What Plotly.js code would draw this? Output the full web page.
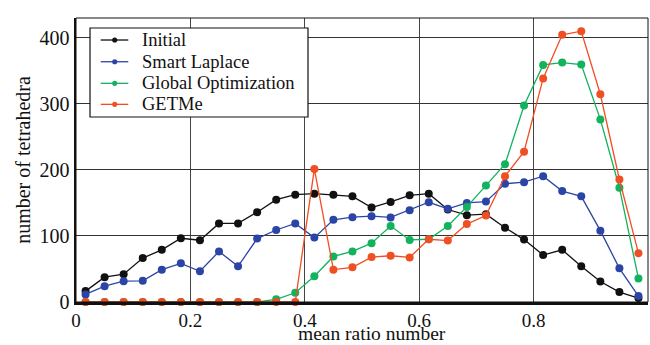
<!DOCTYPE html>
<html><head><meta charset="utf-8">
<script src="https://cdn.plot.ly/plotly-3.0.1.min.js"></script>
<style>html,body{margin:0;padding:0;background:#fff}#chart{width:650px;height:345px}</style>
</head><body><div id="chart"></div>
<script>
// bin centers of mean ratio number (30 bins)
const binCenters = [0.0167,0.05,0.0833,0.1167,0.15,0.1833,0.2167,0.25,0.2833,0.3167,0.35,0.3833,0.4167,0.45,0.4833,0.5167,0.55,0.5833,0.6167,0.65,0.6833,0.7167,0.75,0.7833,0.8167,0.85,0.8833,0.9167,0.95,0.9833];
const initial = [16.5,37.5,42,66.5,79,96.5,93.5,119,119,136,155,162.5,164,162.5,160,143,151.5,161.5,164,140,131.5,133,112.5,94.5,71,79,54,31,15,6];
const smartLaplace = [11.5,24,31.5,32,49,58.5,46.5,76.5,54,96,109,119,97.5,124.5,128.5,130,128,139,151,141,150,152,179,181.5,190.5,168,160,108,51,9];
const globalOpt = [0,0,0,0,0,0,0,0,0,0,4,14,39,69,76.5,89,115,94,95,115,144,176.5,208.5,297.5,359,362.5,359.5,276.5,173,35.5];
const getme = [0,0,0,0,0,0,0,0,0,0,0,0,201.5,49,52.5,68,70,67.5,95,93,118,131,190.5,227.5,338.5,404.5,410,314.5,185.5,74];
const seriesNames = ["Initial","Smart Laplace","Global Optimization","GETMe"];
const xTickVals = [0,0.2,0.4,0.6,0.8,1];
const xTickText = ["0","0.2","0.4","0.6","0.8","1"];
const yTickVals = [0,100,200,300,400];
const xTitle = "mean ratio number";
const yTitle = "number of tetrahedra";

const colors = ["#111111","#2b45a6","#12b25e","#f04f24"];
const ys = [initial, smartLaplace, globalOpt, getme];
const traces = ys.map((y,i)=>({
  x: binCenters, y: y, name: seriesNames[i], type:'scatter', mode:'lines+markers',
  line:{color:colors[i], width:1.3}, marker:{color:colors[i], size:8}, cliponaxis:false,
  showlegend:false
}));

const fam = 'Liberation Serif';
const f = (s)=>({family:fam, size:s, color:'#111'});

// hand-built legend box (paper coordinates of the plot area)
const shapes = [
  {type:'rect', xref:'paper', yref:'paper', x0:0, x1:1, y0:0, y1:1,
   line:{color:'#111', width:1}, layer:'above'},
  {type:'rect', xref:'paper', yref:'paper', x0:0.0245, x1:0.4056, y0:0.6514, y1:0.9648,
   fillcolor:'#fff', line:{color:'#111', width:1.2}, layer:'above'}
];
const annotations = [];
const rowY = [0.9225, 0.846, 0.770, 0.696];
seriesNames.forEach((n,i)=>{
  shapes.push({type:'line', xref:'paper', yref:'paper', x0:0.0432, x1:0.0914, y0:rowY[i], y1:rowY[i],
    line:{color:colors[i], width:1.3}, layer:'above'});
  shapes.push({type:'circle', xref:'paper', yref:'paper', x0:0.0677-0.0045, x1:0.0677+0.0045,
    y0:rowY[i]-0.009, y1:rowY[i]+0.009, fillcolor:colors[i], line:{color:colors[i], width:0}, layer:'above'});
  annotations.push({xref:'paper', yref:'paper', x:0.1119, y:rowY[i], xanchor:'left', yanchor:'middle',
    text:n, showarrow:false, font:f(18.5)});
});
// x-axis title placed just under the tick labels, kept inside the page
annotations.push({xref:'paper', yref:'paper', x:0.5175, y:-0.1515, xanchor:'center', yanchor:'bottom',
  text:xTitle, showarrow:false, font:f(19.5), borderpad:0});

const layout = {
  width:650, height:345,
  margin:{l:76, r:2, t:18, b:43},
  paper_bgcolor:'#fff', plot_bgcolor:'#fff',
  font: f(18),
  showlegend:false,
  xaxis:{range:[0,1], tickvals:xTickVals, ticktext:xTickText, showgrid:true,
    gridcolor:'#444', gridwidth:1, zeroline:false, showline:true, linecolor:'#111', linewidth:2.5,
    ticks:'', tickfont:f(19), automargin:false},
  yaxis:{range:[0,430], tickvals:yTickVals, showgrid:true, gridcolor:'#333', gridwidth:1,
    zeroline:false, showline:true, linecolor:'#111', linewidth:2.5, ticks:'',
    tickfont:f(20), automargin:false,
    title:{text:yTitle, font:f(20), standoff:4}},
  shapes: shapes,
  annotations: annotations
};
Plotly.newPlot('chart', traces, layout, {staticPlot:true, displayModeBar:false});
</script></body></html>
